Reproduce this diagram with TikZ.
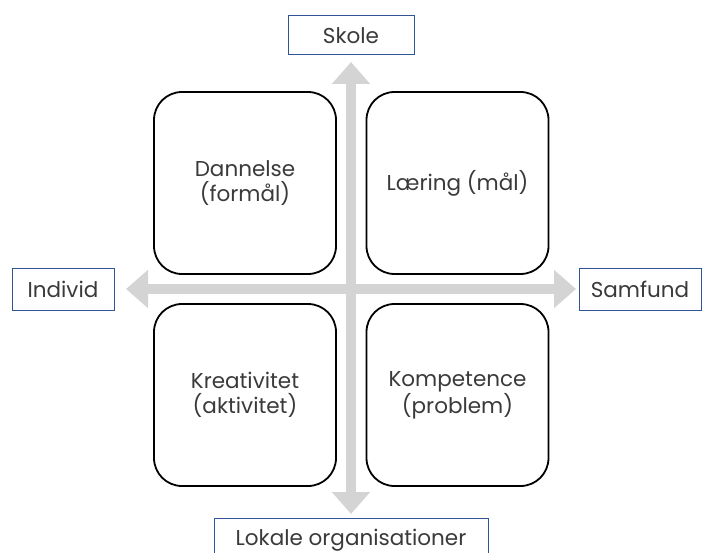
\documentclass[tikz,border=0pt]{standalone}
\usepackage{fontspec}
\setmainfont{Poppins}
\usepackage{xcolor}
\usepackage{tikz}
\usetikzlibrary{arrows.meta}

\definecolor{labelblue}{HTML}{2F5597}
\definecolor{axisgray}{HTML}{D4D4D4}
\definecolor{txtgray}{HTML}{3A3A3A}

\tikzset{
  quadrant/.style={draw=black, line width=1.8pt, rounded corners=28pt,
    minimum width=182pt, minimum height=182pt, align=center,
    text=txtgray, font=\fontsize{21.5}{25}\selectfont},
  axislabel/.style={draw=labelblue, line width=1pt, minimum height=40pt,
    text=txtgray, font=\fontsize{21.5}{25}\selectfont},
  axis/.style={draw=axisgray, line width=10pt,
    {Triangle[width=37pt,length=22pt]}-{Triangle[width=37pt,length=22pt]}}
}

\begin{document}
\begin{tikzpicture}[x=1pt,y=-1pt]
    \useasboundingbox (0,0) rectangle (703,553);
    % axes
    \coordinate (top) at (351,62);
    \coordinate (bottom) at (351,514);
    \coordinate (left) at (126,289);
    \coordinate (right) at (576,289);
    \draw[axis] (top) -- (bottom);
    \draw[axis] (left) -- (right);
    % quadrants
    \node[quadrant] (dannelse) at (245,183) {Dannelse\\(formål)};
    \node[quadrant] (laering) at (457.5,183) {Læring (mål)};
    \node[quadrant] (kreativitet) at (245,395) {Kreativitet\\(aktivitet)};
    \node[quadrant] (kompetence) at (457.5,395) {Kompetence\\(problem)};
    % axis labels
    \node[axislabel, minimum width=126pt, minimum height=39pt] (skole) at (351,35.5) {Skole};
    \node[axislabel, minimum width=102pt, minimum height=42pt] (individ) at (63,289) {Individ};
    \node[axislabel, minimum width=122pt, minimum height=42pt] (samfund) at (640,289) {Samfund};
    \node[axislabel, minimum width=274pt, minimum height=44pt] (lokale) at (351,540) {Lokale organisationer};
\end{tikzpicture}
\end{document}
